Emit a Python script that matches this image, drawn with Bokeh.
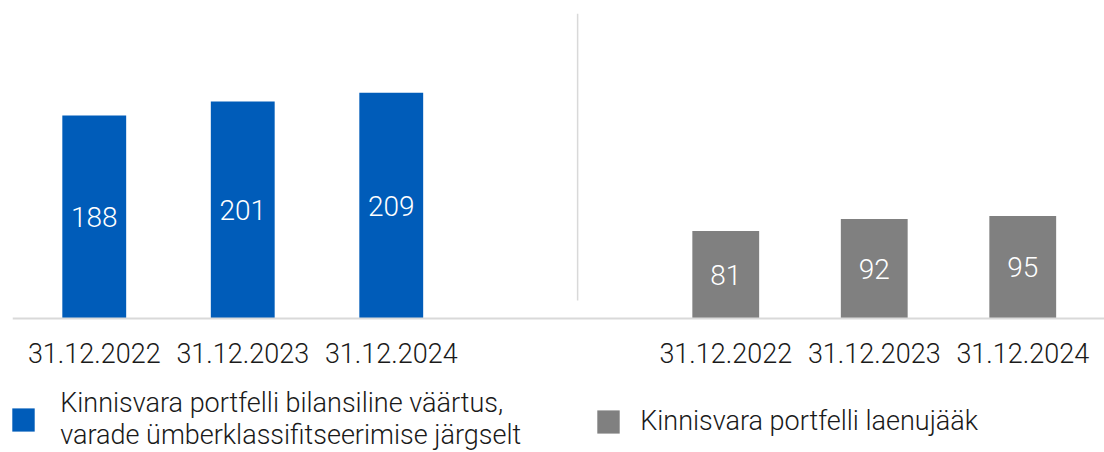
from bokeh.plotting import figure
from bokeh.models import ColumnDataSource, FactorRange, Range1d, Legend, LegendItem, Span
from bokeh.embed import file_html
from bokeh.resources import INLINE
from bokeh.core.properties import value

# ---- data ----
dates = ["31.12.2022", "31.12.2023", "31.12.2024"]
portfolio_value = [188, 201, 209]
portfolio_loans = [81, 92, 95]
label_value = "Kinnisvara portfelli bilansiline väärtus,\nvarade ümberklassifitseerimise järgselt"
label_loans = "Kinnisvara portfelli laenujääk"
group_value = "a"
group_loans = "b"

FONT = "Roboto Light"
BLUE = "#005CB9"
GRAY = "#808080"
LINE = "#d9d9d9"
TEXT = "#1a1a1a"

x_value = [(group_value, d) for d in dates]
x_loans = [(group_loans, d) for d in dates]

p = figure(width=1104, height=452, output_backend="svg", toolbar_location=None,
           x_range=FactorRange(*x_value, *x_loans, group_padding=1.2525,
                               range_padding=0.0505, range_padding_units="absolute",
                               factor_padding=0),
           y_range=Range1d(-124.1, 282.4),
           min_border_left=12, min_border_right=0, min_border_top=13,
           min_border_bottom=0)

src_v = ColumnDataSource(dict(x=x_value, top=portfolio_value, date=dates,
                              mid=[v / 2 for v in portfolio_value],
                              lab=[str(v) for v in portfolio_value]))
src_l = ColumnDataSource(dict(x=x_loans, top=portfolio_loans, date=dates,
                              mid=[v / 2 for v in portfolio_loans],
                              lab=[str(v) for v in portfolio_loans]))

r_v = p.vbar(x="x", top="top", width=0.43, source=src_v, fill_color=BLUE, line_color=None)
r_l = p.vbar(x="x", top="top", width=0.45, source=src_l, fill_color=GRAY, line_color=None)

# baseline
p.add_layout(Span(location=0, dimension="width", line_color=LINE, line_width=2))

for src in (src_v, src_l):
    # value labels inside bars
    p.text(x="x", y="mid", text="lab", source=src, text_align="center",
           text_baseline="middle", text_color="white",
           text_font=value(FONT), text_font_size="28px")
    # category (date) labels under the baseline
    p.text(x="x", y=0, text="date", source=src, text_align="center",
           text_baseline="middle", text_color=TEXT, y_offset=35,
           text_font=value(FONT), text_font_size="27px")

# separator between the two groups
p.segment(x0=[3.755], x1=[3.755], y0=[16.7], y1=[282.4], line_color=LINE, line_width=1.5)

p.xaxis.visible = False
p.yaxis.visible = False
p.grid.visible = False
p.outline_line_color = None

common = dict(label_text_font=FONT, label_text_font_size="27px",
              label_text_color=TEXT, glyph_width=28, glyph_height=29,
              padding=0, margin=0, border_line_color=None,
              background_fill_alpha=0, label_text_line_height=0.98, spacing=0)

leg1 = Legend(items=[LegendItem(label=label_value, renderers=[r_v])],
              location=(-2.8, 1), label_standoff=23, **common)
leg2 = Legend(items=[LegendItem(label=label_loans, renderers=[r_l])],
              location=(582.2, 15), label_standoff=18, **common)
p.add_layout(leg1)
p.add_layout(leg2)

open("out.html", "w").write(file_html(p, INLINE))
